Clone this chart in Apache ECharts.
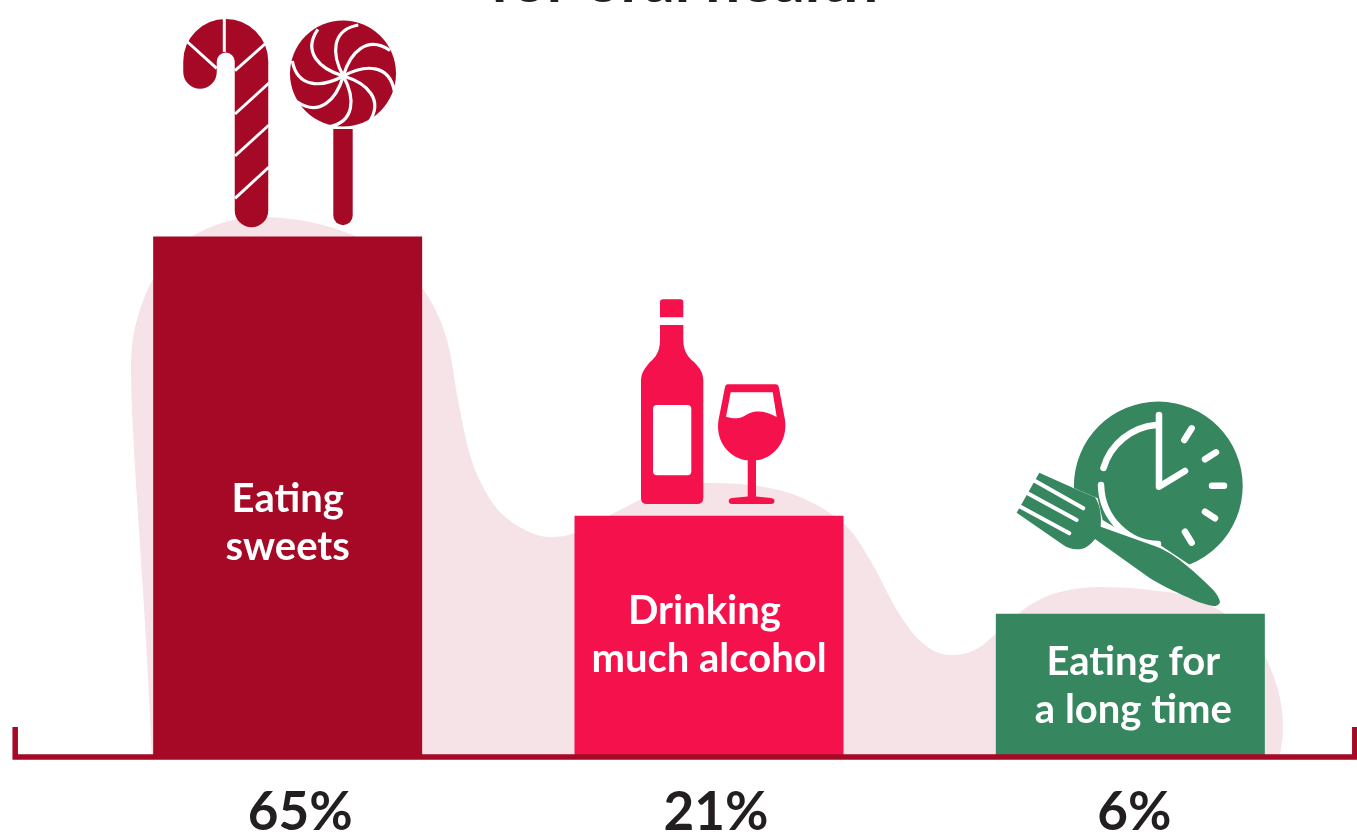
<!DOCTYPE html>
<html><head><meta charset="utf-8">
<style>html,body{margin:0;padding:0;background:#fff}#c{width:1357px;height:832px}</style>
<script src="https://cdn.jsdelivr.net/npm/echarts@6/dist/echarts.min.js"></script>
</head><body><div id="c"></div>
<script>
const categories = ['65%', '21%', '6%'];
const barLabels = ['Eating\nsweets', '{shift|Drinking}\nmuch alcohol', 'Eating for\na long time'];
const barHeights = [65, 30, 17.7];
const barColors = ['#a50926', '#f4114c', '#368660'];
const titleText = 'for oral health';
const blobOutline = [[152,755],[146,640],[139,530],[133,430],[131,370],[137,320],[160,268],[200,232],[260,217],[310,222],[360,238],[400,262],[430,300],[447,340],[458,400],[470,455],[482,485],[500,512],[525,530],[550,537],[575,533],[620,510],[660,491],[700,483],[750,485],[800,497],[845,525],[870,560],[900,615],[925,645],[950,655],[975,650],[1000,630],[1030,605],[1060,592],[1100,587],[1150,590],[1200,600],[1250,635],[1275,680],[1283,730],[1280,755]];
const axisFrame = [[15.2,727],[15.2,757],[1354.8,757],[1354.8,727]];
const iconNames = ['cane', 'lollipop', 'bottle', 'glass', 'clock'];

const DARK = '#a50926', PINK = '#f4114c', GREEN = '#368660', WHITE = '#ffffff';
function p(d, fill, stroke, w) {
  return {type:'path', shape:{pathData:d}, style:{fill:fill||'none', stroke:stroke||'none', lineWidth:w||0, lineCap:'round', lineJoin:'round'}};
}
function seg(x1,y1,x2,y2,w){ return p(`M${x1} ${y1}L${x2} ${y2}`, null, WHITE, w); }
const drawers = {
  cane(){ 
    const c = [p('M251.5 210.5L251.5 61.5A25.75 25.75 0 0 0 200 61.5L200 72', null, DARK, 33.5)];
    [[224.3,17,224.3,52],[187,41.5,216.7,68.3],[235,70.7,265,44],[235,114,269,83],[235,156,269,125],[235,198.3,269,167]]
      .forEach(s=>{const e=seg(s[0],s[1],s[2],s[3],3); e.style.lineCap='butt'; c.push(e);});
    return c;
  },
  lollipop(){
    const c = [{type:'circle', shape:{cx:343,cy:73.5,r:53}, style:{fill:DARK}},
      p('M333.3 129L352.7 129L352.7 215.5A9.7 9.7 0 0 1 333.3 215.5Z', DARK)];
    for(let i=0;i<8;i++){
      const a=i*Math.PI/4;
      c.push({type:'path', x:343.3, y:76, rotation:-a, shape:{pathData:'M0 0C-12 -22 -12 -46 15 -51'}, style:{fill:'none',stroke:WHITE,lineWidth:3.2}});
    }
    return c;
  },
  bottle(){
    return [
      p('M660 302Q660 299.3 663 299.3L680.3 299.3Q683.3 299.3 683.3 302L683.3 317.3L660 317.3Z', PINK),
      p('M660 325L683.3 325L683.3 340C683.3 352 689 358 694 362C700 368 703.3 373 703.3 381L703.3 498Q703.3 504 697 504L647 504Q641 504 641 498L641 381C641 373 645 368 650 362C655 358 660 352 660 340Z', PINK),
      {type:'rect', shape:{x:653,y:405,width:38.3,height:70.3,r:4}, style:{fill:WHITE}}
    ];
  },
  glass(){
    return [
      p('M727.5 384.3L776 384.3Q778.3 384.3 778.8 387L785 420C788 443 772 459 756 460.3L756 496.5L771 498Q774.5 498.6 774.5 501Q774.5 504 771 504L732 504Q728.7 504 728.7 501Q728.7 498.6 732 498L747.7 496.5L747.7 460.3C731 459 715 443 718.5 420L725 387Q725.5 384.3 727.5 384.3Z', PINK),
      p('M730.7 392.3L772.7 392.3L776.7 417C770 413 763 411 756 411.5C748 412 744 418 736.7 418.3C732 418.5 729 417.5 726 416.7Z', WHITE)
    ];
  },
  clock(){
    const z = [
      p('M200 285L293 325L308 390L400 445L480 465L570 525L570 560L200 560Z', WHITE),
      // fork
      p('M118 248L225 296L285 322C298 340 306 375 302 410L470 470C520 490 570 530 640 600C650 612 658 625 660 635C658 645 650 648 640 648C620 645 600 638 580 630C540 612 490 590 450 565L285 447C268 468 255 478 230 478C215 478 200 472 190 465L50 368Z', GREEN),
    ];
    [[100,270,250,355],[80,308,230,390],[57,348,208,430]].forEach(s=>z.push(p(`M${s[0]} ${s[1]}L${s[2]} ${s[3]}`,null,WHITE,12)));
    const c = [{type:'circle', shape:{cx:1158.3,cy:486,r:84.4}, style:{fill:GREEN}},
      p('M1156 425A60 60 0 0 0 1103.5 468', null, WHITE, 6.5),
      p('M1101 485C1102 520 1130 544 1158 544', null, WHITE, 6.5),
      p('M1159 415L1159 486.7L1185 471', null, WHITE, 6.5),
      seg(1191.7,428.3,1184.3,440,6.5), seg(1216,452.3,1205,459.3,6.5), seg(1224,485.7,1212,485.7,6.5),
      seg(1215,518.3,1205,511.7,6.5), seg(1191.7,542.7,1185,531.7,6.5),
      {type:'group', x:1000, y:390, scaleX:1/3, scaleY:1/3, children:z}
    ];
    return c;
  }
};

const chart = echarts.init(document.getElementById('c'), null, {renderer:'canvas'});
const pctStyle = {fontFamily:'Lato', fontWeight:'bold', fontSize:53, color:'#231f20', lineHeight:53};
const barText = {fontFamily:'Lato', fontWeight:'bold', fontSize:40, lineHeight:48, color:'#fff'};
chart.setOption({
  animation:false,
  backgroundColor:'#fff',
  title:{text:titleText, left:679, textAlign:'center', top:-54, textStyle:{fontFamily:'Lato', fontWeight:'bold', fontSize:62, color:'#231f20'}},
  grid:[
    {left:77, right:16, top:37, bottom:77, outerBoundsMode:'none', containLabel:false},
    {left:0, right:0, top:0, bottom:0, outerBoundsMode:'none'}
  ],
  xAxis:[
    {type:'category', gridIndex:0, data:categories, axisLine:{show:false}, axisTick:{show:false},
     axisLabel:{margin:31, ...pctStyle, formatter(v, i){ return `{p${i}|${v}}`; },
       rich:{
         p0:{...pctStyle, padding:[0,0,0,25]},
         p1:{...pctStyle, padding:[0,0,0,14]},
         p2:{...pctStyle, padding:[0,0,0,8]}
       }}},
    {type:'value', gridIndex:1, min:0, max:1357, show:false}
  ],
  yAxis:[
    {type:'value', gridIndex:0, min:0, max:90, show:false},
    {type:'value', gridIndex:1, min:0, max:832, inverse:true, show:false}
  ],
  series:[
    {type:'line', name:'backdrop', xAxisIndex:1, yAxisIndex:1, z:1, data:blobOutline, smooth:0.35, symbol:'none', silent:true,
     lineStyle:{width:0}, areaStyle:{color:'#f5e3e7', opacity:1, origin:755}},
    {type:'bar', xAxisIndex:0, yAxisIndex:0, z:2, barWidth:269, silent:true,
     data:barHeights.map((v,i)=>({value:v, itemStyle:{color:barColors[i]},
       label:{show:true, position:'inside', offset:[i===2?3:0, i===0?27:(i===2?2:0)], formatter:barLabels[i], ...barText,
              rich:{shift:{...barText, padding:[0,9,0,0]}}}}))},
    {type:'line', name:'baseline', xAxisIndex:1, yAxisIndex:1, z:3, data:axisFrame, symbol:'none', silent:true,
     lineStyle:{color:DARK, width:5.5, join:'miter', cap:'butt'}},
    {type:'custom', name:'icons', xAxisIndex:1, yAxisIndex:1, z:4, silent:true, clip:false,
     data:iconNames.map((n,i)=>[i,0]),
     renderItem(params, api){
       const o = api.coord([0,0]);
       return {type:'group', x:o[0], y:o[1], children:drawers[iconNames[params.dataIndex]]()};
     }}
  ]
});
</script></body></html>
